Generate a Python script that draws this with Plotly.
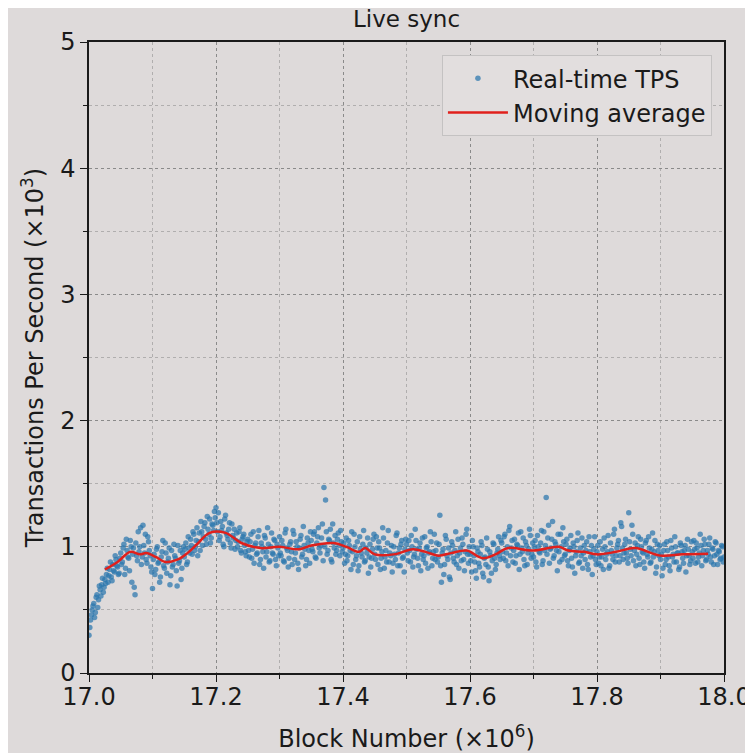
import plotly.graph_objects as go

# Block number (x10^6) sampling
x_start = 17.0
x_step = 0.0025

# Real-time TPS (x10^3), 20 samples per 0.05 of block range
tps_a = [
    0.30, 0.42, 0.50, 0.55, 0.48, 0.62, 0.58, 0.66, 0.70, 0.64, 0.74, 0.78, 0.72, 0.82, 0.76, 0.86, 0.80, 0.90, 0.84, 0.79,
    0.95, 0.88, 1.02, 0.83, 0.97, 0.91, 1.05, 0.72, 0.99, 0.62, 0.93, 1.12, 1.00, 0.86, 1.17, 0.95, 0.90, 1.08, 0.97, 0.84,
    0.67, 0.94, 0.82, 1.00, 0.88, 0.76, 0.96, 0.85, 1.03, 0.79, 0.91, 0.70, 0.97, 0.86, 0.93, 0.81, 1.01, 0.89, 0.74, 0.95,
    0.92, 1.03, 0.88, 0.99, 1.06, 0.94, 1.10, 1.00, 1.15, 1.04, 0.97, 1.12, 1.08, 1.19, 1.02, 1.14, 1.22, 1.07, 1.17, 1.28,
    1.31, 1.12, 1.05, 1.20, 1.16, 1.00, 1.25, 1.09, 1.14, 1.03, 1.18, 1.07, 0.98, 1.11, 1.04, 1.15, 0.95, 1.08, 1.01, 0.93,
    1.06, 0.92, 1.10, 0.98, 0.87, 1.03, 0.95, 1.13, 0.90, 1.00, 0.83, 1.07, 0.96, 1.02, 0.89, 1.11, 0.94, 1.05, 0.85, 0.99,
    1.08, 0.93, 1.01, 0.88, 1.14, 0.97, 0.91, 1.04, 0.86, 1.10, 0.95, 1.00, 0.82, 1.06, 0.92, 1.16, 0.98, 0.90, 1.03, 0.87,
    1.05, 0.96, 1.12, 0.91, 1.08, 0.99, 1.01, 1.18, 1.47, 1.37, 0.94, 1.06, 1.14, 0.88, 1.03, 1.09, 0.97, 1.11, 0.93, 1.04,
    0.99, 0.87, 1.07, 0.93, 1.01, 0.82, 0.96, 1.10, 0.90, 1.04, 0.85, 0.98, 0.92, 1.13, 0.89, 0.95, 0.79, 1.02, 0.91, 1.06,
    0.94, 1.08, 0.86, 0.99, 0.91, 1.15, 0.83, 0.97, 1.03, 0.88, 0.93, 0.80, 1.00, 0.90, 1.11, 0.95, 0.85, 1.05, 0.92, 0.98,
    1.02, 0.89, 0.97, 1.09, 0.84, 0.94, 1.05, 0.91, 0.99, 0.81, 1.07, 0.93, 0.87, 1.00, 0.95, 1.12, 0.85, 0.96, 0.90, 1.03,
    0.92, 1.25, 0.72, 0.98, 0.86, 1.06, 0.90, 0.76, 0.95, 1.01, 0.88, 1.12, 0.93, 0.83, 0.99, 1.07, 0.90, 0.96, 1.14, 0.87,
    0.94, 0.80, 1.00, 0.88, 0.75, 0.96, 0.84, 1.04, 0.79, 0.91, 0.86, 0.98, 0.73, 0.93, 0.89, 1.02, 0.82, 0.95, 1.08, 0.90,
    1.03, 0.91, 1.10, 0.95, 0.85, 1.16, 0.99, 0.88, 1.06, 0.93, 1.01, 0.82, 1.12, 0.96, 0.90, 1.04, 0.86, 0.98, 1.09, 0.94,
    0.92, 1.05, 0.84, 1.00, 0.95, 1.13, 0.89, 0.97, 1.39, 1.07, 0.87, 0.99, 1.20, 0.93, 1.02, 0.81, 0.96, 1.10, 0.90, 1.04,
    0.94, 1.06, 0.85, 0.99, 0.91, 1.03, 0.79, 0.96, 1.11, 0.88, 0.93, 0.83, 1.01, 0.97, 0.86, 1.08, 0.92, 0.78, 0.98, 0.90,
    0.96, 0.87, 1.04, 0.92, 0.82, 1.00, 0.94, 1.09, 0.85, 0.97, 0.90, 1.14, 0.93, 1.02, 0.88, 1.19, 0.99, 0.95, 1.06, 0.91,
    1.27, 0.98, 1.17, 0.89, 1.03, 0.94, 1.08, 0.86, 1.00, 0.95, 0.83, 1.05, 0.92, 0.99, 0.88, 1.11, 0.96, 0.79, 1.02, 0.93,
    0.90, 0.77, 0.97, 0.86, 1.04, 0.92, 0.81, 0.99, 0.94, 1.08, 0.88, 0.95, 0.84, 1.01, 0.91, 0.97, 0.80, 1.06, 0.93, 0.89,
    0.96, 1.05, 0.87, 0.99, 0.92, 1.10, 0.85, 0.97, 1.02, 0.90, 0.94, 1.07, 0.88, 0.98, 0.93, 1.03, 0.86, 0.96, 0.91, 1.00,
    0.92,
]
# Second set of samples, lying half a step after those above
tps_b = [
    0.36, 0.46, 0.53, 0.44, 0.60, 0.52, 0.69, 0.61, 0.75, 0.68, 0.71, 0.83, 0.77, 0.88, 0.73, 0.81, 0.93, 0.85, 0.78, 0.91,
    0.86, 0.99, 0.78, 1.06, 0.92, 0.81, 1.00, 0.94, 0.68, 1.03, 0.89, 0.96, 1.15, 0.92, 1.01, 1.10, 0.87, 1.04, 0.93, 0.80,
    0.90, 0.78, 0.98, 0.87, 0.72, 0.92, 1.05, 0.83, 0.95, 0.88, 0.99, 0.77, 0.84, 1.02, 0.91, 0.69, 0.87, 0.97, 0.83, 1.00,
    0.98, 0.86, 1.08, 0.95, 1.01, 1.12, 0.97, 1.05, 0.93, 1.11, 1.20, 1.01, 1.16, 1.06, 1.24, 1.10, 1.03, 1.18, 1.13, 1.23,
    1.19, 1.27, 1.08, 1.13, 1.02, 1.22, 1.11, 1.06, 1.19, 0.99, 1.09, 1.14, 1.05, 1.00, 1.12, 0.97, 1.06, 1.10, 0.96, 1.04,
    0.97, 1.04, 0.91, 1.12, 1.01, 0.94, 1.08, 0.86, 1.03, 0.96, 1.09, 0.92, 1.15, 0.88, 1.00, 0.95, 1.06, 0.90, 1.02, 0.93,
    0.95, 1.05, 0.89, 1.11, 0.99, 0.84, 1.02, 0.96, 1.13, 0.90, 1.04, 0.87, 0.99, 1.09, 0.94, 1.01, 0.85, 1.07, 0.97, 1.12,
    0.98, 1.10, 0.92, 1.03, 1.15, 0.95, 1.07, 0.89, 1.00, 1.12, 0.97, 1.05, 0.90, 1.18, 0.99, 0.94, 1.06, 1.01, 1.13, 0.96,
    1.03, 0.94, 0.89, 1.05, 0.97, 1.12, 0.86, 1.00, 0.93, 0.81, 1.08, 0.95, 1.02, 0.88, 0.99, 1.07, 0.92, 0.84, 0.98, 1.10,
    0.90, 0.99, 1.04, 0.82, 0.96, 1.07, 0.92, 0.88, 1.13, 0.95, 1.01, 0.87, 0.94, 1.09, 0.85, 0.99, 1.02, 0.91, 0.80, 1.06,
    0.95, 1.05, 0.88, 1.00, 0.92, 1.14, 0.98, 0.85, 1.03, 0.94, 0.90, 1.08, 0.99, 0.83, 0.96, 1.04, 0.91, 1.10, 0.97, 0.88,
    1.02, 0.85, 0.95, 0.78, 1.09, 0.93, 0.99, 0.74, 1.04, 0.91, 0.97, 0.86, 1.06, 0.95, 0.89, 1.02, 0.81, 1.10, 0.94, 1.00,
    0.89, 1.05, 0.93, 0.81, 0.99, 0.87, 0.94, 1.01, 0.76, 0.92, 1.07, 0.84, 0.96, 0.79, 1.03, 0.91, 0.86, 0.98, 0.93, 1.05,
    0.96, 1.08, 0.89, 1.00, 1.13, 0.93, 1.05, 0.97, 0.87, 1.02, 1.11, 0.94, 0.99, 1.07, 0.85, 1.01, 0.95, 1.14, 0.91, 1.03,
    1.00, 0.88, 1.09, 0.96, 1.03, 0.86, 1.12, 1.01, 0.94, 1.17, 0.98, 1.06, 0.91, 1.04, 0.97, 1.10, 0.88, 1.00, 1.15, 0.93,
    1.02, 0.89, 0.97, 1.09, 0.84, 1.00, 0.93, 1.05, 0.87, 0.99, 1.07, 0.95, 0.90, 1.04, 0.82, 0.96, 1.01, 0.93, 1.08, 0.86,
    1.01, 0.92, 0.85, 0.98, 1.07, 0.90, 0.96, 0.83, 1.03, 0.94, 1.10, 0.88, 0.99, 1.05, 0.93, 1.16, 0.90, 1.02, 0.95, 0.87,
    1.04, 0.93, 1.10, 0.97, 0.85, 1.01, 0.91, 1.06, 0.96, 0.88, 1.03, 0.94, 1.08, 0.87, 0.98, 0.92, 1.05, 0.84, 0.97, 1.01,
    0.94, 0.83, 1.02, 0.90, 0.97, 0.85, 1.05, 0.92, 0.88, 1.00, 0.95, 0.82, 1.03, 0.96, 0.87, 1.01, 0.93, 0.98, 0.86, 1.04,
    0.91, 0.98, 1.03, 0.88, 0.95, 1.01, 0.93, 1.06, 0.89, 0.97, 1.02, 0.92, 0.99, 0.86, 1.04, 0.94, 0.97, 0.90, 1.01, 0.88,
]
blocks = [x_start + i * x_step for i in range(len(tps_a))] + \
         [x_start + (i + 0.5) * x_step for i in range(len(tps_b))]
tps = tps_a + tps_b

# Moving average
ma_blocks = [17.025, 17.045, 17.065, 17.08, 17.09, 17.105, 17.12, 17.14, 17.155, 17.17, 17.19,
             17.215, 17.24, 17.27, 17.30, 17.33, 17.35, 17.385, 17.405, 17.425, 17.435, 17.45,
             17.48, 17.51, 17.53, 17.55, 17.57, 17.595, 17.62, 17.64, 17.66, 17.70, 17.74,
             17.755, 17.78, 17.80, 17.83, 17.86, 17.90, 17.935, 17.975]
ma_tps = [0.82, 0.88, 0.96, 0.94, 0.95, 0.92, 0.88, 0.90, 0.95, 1.02, 1.11,
          1.11, 1.03, 0.99, 1.00, 0.98, 1.01, 1.03, 1.00, 0.96, 0.99, 0.94,
          0.94, 0.98, 0.96, 0.93, 0.95, 0.97, 0.91, 0.94, 0.99, 0.97, 1.00,
          0.97, 0.96, 0.94, 0.96, 0.99, 0.93, 0.94, 0.945]

x_ticks = [17.0, 17.2, 17.4, 17.6, 17.8, 18.0]
y_ticks = [0, 1, 2, 3, 4, 5]

bg = "#dedada"
font = "DejaVu Sans"
ink = "#1a1a1a"

# the page body adds an 8 px offset, so the figure is 8 px smaller than the window
W = H = 745
ML, MR, MT, MB = 81, 29, 34, 80

fig = go.Figure()
fig.add_trace(go.Scatter(
    x=blocks, y=tps, mode="markers", name="Real-time TPS",
    marker=dict(color="#2a76ad", size=5.5, opacity=0.72, line=dict(width=0)),
))
fig.add_trace(go.Scatter(
    x=ma_blocks, y=ma_tps, mode="lines", name="Moving average",
    line=dict(color="#e0201c", width=2.5, shape="spline"),
))

axis_common = dict(
    showline=True, linecolor=ink, linewidth=1.5, mirror=True,
    ticks="outside", ticklen=7, tickwidth=1.3, tickcolor=ink,
    showgrid=True, gridcolor="#8a8a8a", griddash="dot", gridwidth=1,
    zeroline=False, automargin=False,
    tickfont=dict(family=font, size=24, color=ink),
)

fig.update_xaxes(
    range=[17.0, 18.0], tickvals=x_ticks, ticktext=[f"{v:.1f}" for v in x_ticks],
    ticklabelstandoff=-6,
    title=dict(text="Block Number (×10<sup>6</sup>)", font=dict(family=font, size=24, color=ink), standoff=24),
    minor=dict(dtick=0.1, tick0=17.0, ticks="outside", ticklen=4, tickcolor=ink,
               showgrid=True, gridcolor="#b0aeae", griddash="dot", gridwidth=1),
    **axis_common,
)
fig.update_yaxes(
    range=[0, 5], tickvals=y_ticks, ticktext=[str(v) for v in y_ticks],
    title=dict(text="Transactions Per Second (×10<sup>3</sup>)", font=dict(family=font, size=24, color=ink), standoff=10),
    minor=dict(dtick=0.5, tick0=0, ticks="outside", ticklen=4, tickcolor=ink,
               showgrid=True, gridcolor="#b0aeae", griddash="dot", gridwidth=1),
    **axis_common,
)

fig.update_layout(
    width=W, height=H,
    margin=dict(l=ML, r=MR, t=MT, b=MB),
    paper_bgcolor=bg, plot_bgcolor=bg,
    title=dict(text="Live sync", x=(ML + (W - MR)) / 2 / W, xanchor="center",
               y=1 - 11 / H, yanchor="middle",
               font=dict(family=font, size=23, color=ink)),
    legend=dict(x=0.981, y=0.979, xanchor="right", yanchor="top",
                bgcolor="#e2dede", bordercolor="#c4c2c2", borderwidth=1,
                font=dict(family=font, size=24, color=ink),
                itemwidth=60),
    showlegend=True,
)

fig.write_html("out.html")
